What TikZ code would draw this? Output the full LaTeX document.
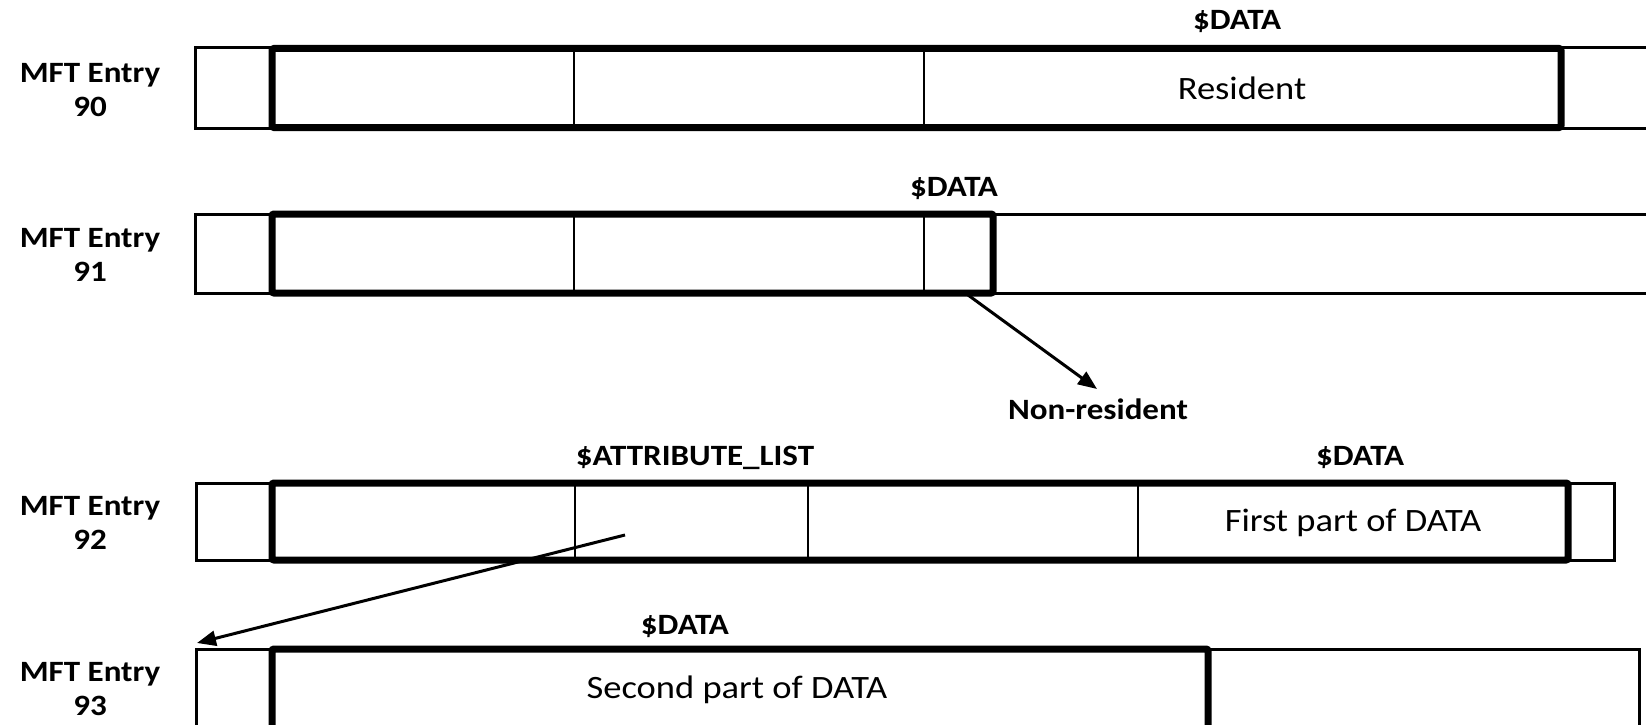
\documentclass[tikz,border=0pt]{standalone}
\usepackage{fontspec}
\setmainfont{Carlito}[FakeStretch=1.12]
\usetikzlibrary{arrows.meta}
\tikzset{
  thinbox/.style={draw=black, line width=3pt, fill=white, inner sep=0pt, outer sep=0pt},
  thickbox/.style={draw=black, line width=7pt, rounded corners=2pt, inner sep=0pt, outer sep=0pt},
  divider/.style={draw=black, line width=2.5pt},
  conn/.style={draw=black, line width=3pt, -{Triangle[length=19pt,width=15pt]}},
  entrylabel/.style={font=\bfseries\fontsize{29.5}{34}\selectfont, align=center, inner sep=0pt},
  attrlabel/.style={font=\bfseries\fontsize{29.5}{34}\selectfont, inner sep=0pt},
  celltext/.style={font=\fontsize{32.6}{38}\selectfont, inner sep=0pt}
}
\begin{document}
\begin{tikzpicture}[x=1pt, y=-1pt]
\useasboundingbox (0,0) rectangle (1646,725);
\clip (0,0) rectangle (1646,725);
\fill[white] (0,0) rectangle (1646,725);

% ---------- MFT Entry 90 ----------
\node[entrylabel] (l90) at (90,90) {MFT Entry\\90};
\node[thinbox, minimum width=1465pt, minimum height=80pt] (t90) at (927.5,88) {};
\draw[divider] (574,48) -- (574,128);
\draw[divider] (924,48) -- (924,128);
\node[thickbox, minimum width=1289pt, minimum height=79pt] (k90) at (916.5,88) {};
\node[attrlabel] (d90) at (1237,22) {\$DATA};
\node[celltext] (r90) at (1242,88) {Resident};

% ---------- MFT Entry 91 ----------
\node[entrylabel] (l91) at (90,255) {MFT Entry\\91};
\node[thinbox, minimum width=1465pt, minimum height=79pt] (t91) at (927.5,253.5) {};
\draw[divider] (574,214) -- (574,293);
\draw[divider] (924,214) -- (924,293);
\node[thickbox, minimum width=721pt, minimum height=79pt] (k91) at (632.5,253.5) {};
\node[attrlabel] (d91) at (954,189) {\$DATA};

\coordinate (a1s) at (968,295);
\coordinate (a1e) at (1097,389);
\draw[conn] (a1s) -- (a1e);
\node[attrlabel] (nr) at (1098,409) {Non-resident};

% ---------- MFT Entry 92 ----------
\node[entrylabel] (l92) at (90,523) {MFT Entry\\92};
\node[thinbox, minimum width=1418pt, minimum height=77pt] (t92) at (905,521.5) {};
\draw[divider] (575,483) -- (575,560);
\draw[divider] (808,483) -- (808,560);
\draw[divider] (1138,483) -- (1138,560);
\node[thickbox, minimum width=1296pt, minimum height=77pt] (k92) at (920,521.5) {};
\node[attrlabel] (al92) at (695,458) {\$ATTRIBUTE\_LIST};
\node[attrlabel] (d92) at (1360,458) {\$DATA};
\node[celltext] (f92) at (1353,523) {First part of DATA};

% ---------- MFT Entry 93 ----------
\node[entrylabel] (l93) at (90,689) {MFT Entry\\93};
\node[thinbox, minimum width=1443pt, minimum height=111pt] (t93) at (917.5,704.5) {};
\node[thickbox, minimum width=936pt, minimum height=111pt] (k93) at (740,704.5) {};
\node[attrlabel] (d93) at (685,626) {\$DATA};
\node[celltext] (s93) at (737,690) {Second part of DATA};

\coordinate (a2s) at (625,535);
\coordinate (a2e) at (197,643);
\draw[conn] (a2s) -- (a2e);
\end{tikzpicture}
\end{document}
